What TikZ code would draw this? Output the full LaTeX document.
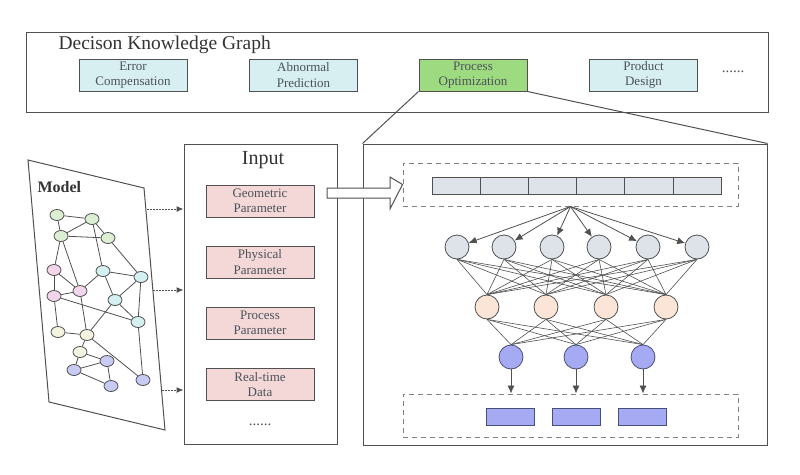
\documentclass[tikz,border=0pt]{standalone}
\usepackage{fontspec}
\setmainfont{Liberation Serif}
\usepackage{tikz}
\usetikzlibrary{arrows.meta,positioning,shapes.geometric}

\definecolor{edgegray}{HTML}{505050}
\definecolor{labelgray}{HTML}{4A525A}
\definecolor{kgcyan}{HTML}{D8EFF2}
\definecolor{kggreen}{HTML}{9EDB80}
\definecolor{inpink}{HTML}{F4D7D7}
\definecolor{cellgray}{HTML}{DDE3E9}
\definecolor{peach}{HTML}{FBE5D6}
\definecolor{outblue}{HTML}{A5AAF2}
\definecolor{outline}{HTML}{45507A}
\definecolor{mgreen}{HTML}{DDEFD2}
\definecolor{mpink}{HTML}{F2D5EA}
\definecolor{mcyan}{HTML}{D4F0F0}
\definecolor{myellow}{HTML}{F3F3E0}
\definecolor{mblue}{HTML}{C8CBF4}

\tikzset{
  kgbox/.style={rectangle, draw=edgegray, line width=1pt, fill=kgcyan, minimum width=108pt,
    minimum height=32pt, inner sep=0pt, align=center, text=labelgray,
    font=\fontsize{13}{15.5}\selectfont},
  inbox/.style={rectangle, draw=edgegray, line width=1pt, fill=inpink, minimum width=108pt,
    minimum height=32pt, inner sep=0pt, align=center, text=labelgray,
    font=\fontsize{13}{15.5}\selectfont},
  mnode/.style={ellipse, draw=edgegray, thick, minimum width=14pt, minimum height=11pt, inner sep=0pt},
  neuron/.style={circle, draw=edgegray, thick, minimum size=24pt, inner sep=0pt},
  cell/.style={rectangle, draw=edgegray, thick, fill=cellgray, minimum width=48.2pt,
    minimum height=17pt, inner sep=0pt},
  outcell/.style={rectangle, draw=outline, thick, fill=outblue, minimum width=48pt,
    minimum height=17pt, inner sep=0pt},
  dashbox/.style={rectangle, draw=gray, line width=1pt, dash pattern=on 5pt off 4pt, inner sep=0pt}
}

\begin{document}
\begin{tikzpicture}[x=1pt,y=-1pt]
  \useasboundingbox (0,0) rectangle (800,474);

  % Decision knowledge graph
  \draw[edgegray, line width=1pt] (26,32) rectangle (768,112);
  \node[anchor=west, text=black!80, font=\fontsize{19.5}{22}\selectfont] (kgtitle) at (55,45) {Decison Knowledge Graph};
  \node[kgbox] (err) at (133,75) {Error\\Compensation};
  \node[kgbox] (abn) at (303.5,75) {Abnormal\\Prediction};
  \node[kgbox, fill=kggreen] (po) at (473,75) {Process\\Optimization};
  \node[kgbox] (prod) at (643.5,75) {Product\\Design};
  \node[text=labelgray, font=\fontsize{15}{17}\selectfont] (kgdots) at (733,72) {......};

  % Model
  \draw[edgegray, line width=1pt] (28,160) -- (144,188) -- (165,430) -- (49,402) -- cycle;
  \node[anchor=west, font=\bfseries\fontsize{16}{18}\selectfont, text=black!80] (model) at (34,187) {Model};
  \node[mnode, fill=mgreen] (g1) at (57,215) {};
  \node[mnode, fill=mgreen] (g2) at (92,219) {};
  \node[mnode, fill=mgreen] (g3) at (61,236) {};
  \node[mnode, fill=mgreen] (g4) at (108,238) {};
  \node[mnode, fill=mpink] (p1) at (54,270) {};
  \node[mnode, fill=mpink] (p2) at (54,296) {};
  \node[mnode, fill=mpink] (p3) at (80,291) {};
  \node[mnode, fill=mcyan] (c1) at (103,271) {};
  \node[mnode, fill=mcyan] (c2) at (141,277) {};
  \node[mnode, fill=mcyan] (c3) at (115,300) {};
  \node[mnode, fill=mcyan] (c4) at (138,322) {};
  \node[mnode, fill=myellow] (y1) at (58,332) {};
  \node[mnode, fill=myellow] (y2) at (87,335) {};
  \node[mnode, fill=myellow] (y3) at (80,352) {};
  \node[mnode, fill=mblue] (b1) at (107,361) {};
  \node[mnode, fill=mblue] (b2) at (74,370) {};
  \node[mnode, fill=mblue] (b3) at (111,386) {};
  \node[mnode, fill=mblue] (b4) at (143,380) {};
  \foreach \a/\b in {g1/g2, g1/g3, g2/g3, g3/g4, g2/g4, g2/c1, g3/p1, g3/p3, g4/c2,
      p1/p2, p1/p3, p2/p3, p3/c1, c1/c2, c1/c3, c2/c3, c2/c4, c3/c4, p2/c4,
      c3/y2, p3/y2, p2/y1, y1/y2, y2/y3, y3/b1, y3/b2, y2/b4, c4/b4,
      b2/b1, b2/b3, b1/b3}
    \draw[edgegray, thick] (\a) -- (\b);

  % Input
  \node[rectangle, draw=edgegray, line width=1pt, minimum width=153pt, minimum height=300pt,
    inner sep=0pt] (input) at (260.5,294) {};
  \node[font=\fontsize{20}{22}\selectfont, text=black!80] (intitle) at (263,160) {Input};
  \node[inbox] (geo) at (260,201) {Geometric\\Parameter};
  \node[inbox] (phy) at (260,262) {Physical\\Parameter};
  \node[inbox] (pro) at (260,323) {Process\\Parameter};
  \node[inbox] (rt) at (260,384.5) {Real-time\\Data};
  \node[text=labelgray, font=\fontsize{15}{17}\selectfont] (indots) at (260,425) {......};

  % Model -> Input
  \coordinate (m1) at (147,209);
  \coordinate (m2) at (153,290);
  \coordinate (m3) at (162,390);
  \foreach \m in {m1,m2,m3}
    \draw[edgegray, line width=1pt, dash pattern=on 1.5pt off 1.5pt, -{Latex[length=7pt,width=6pt]}] (\m) -- (\m -| input.west);

  % Network
  \node[rectangle, draw=edgegray, line width=1pt, minimum width=404pt, minimum height=301pt,
    inner sep=0pt] (net) at (565,294.5) {};
  \draw[edgegray, line width=1pt] (po.south west) -- (net.north west);
  \draw[edgegray, line width=1pt] (po.south east) -- (net.north east);

  \node[dashbox, minimum width=335pt, minimum height=43pt] (indash) at (570.5,184.5) {};
  \foreach \i in {1,...,6}
    \node[cell] (cell\i) at ({432+48.2*(\i-0.5)},185.5) {};
  \node[dashbox, minimum width=335pt, minimum height=43pt] (outdash) at (570.5,415.5) {};

  % hollow arrow
  \draw[edgegray, line width=1pt, fill=white] (327,188) -- (390,188) -- (390,177) -- (indash.west)
    -- (390,209) -- (390,198) -- (327,198) -- cycle;

  % layers
  \foreach \x [count=\i] in {457,504,552,599,648,697}
    \node[neuron, fill=cellgray] (la\i) at (\x,247) {};
  \foreach \x [count=\i] in {487,546,606,666}
    \node[neuron, fill=peach] (lb\i) at (\x,307) {};
  \foreach \x [count=\i] in {511,576,643}
    \node[neuron, draw=outline, fill=outblue] (lc\i) at (\x,357) {};

  \foreach \i in {1,...,6}
    \draw[edgegray, thick, -{Latex[length=8pt,width=7pt]}] (indash.south) -- (la\i);
  \foreach \i in {1,...,6}
    \foreach \j in {1,...,4}
      \draw[edgegray, semithick] (la\i.south) -- (lb\j.north);
  \foreach \i in {1,...,4}
    \foreach \j in {1,...,3}
      \draw[edgegray, semithick] (lb\i.south) -- (lc\j.north);
  \foreach \i in {1,...,3}
    \draw[edgegray, thick, -{Latex[length=8pt,width=7pt]}] (lc\i) -- (lc\i |- outdash.north);

  \foreach \x [count=\i] in {510,576,642.5}
    \node[outcell] (out\i) at (\x,416.5) {};
\end{tikzpicture}
\end{document}
